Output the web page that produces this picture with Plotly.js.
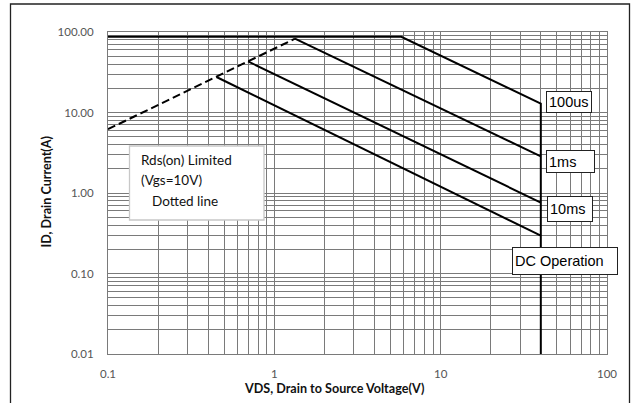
<!DOCTYPE html>
<html>
<head>
<meta charset="utf-8">
<script src="https://cdn.plot.ly/plotly-3.0.1.min.js"></script>
<style>
  html, body { margin: 0; padding: 0; background: #fff; }
  #chart { width: 637px; height: 403px; }
</style>
</head>
<body>
<div id="chart"></div>
<script>
// ---- data ----
const xTickVals = [0.1, 1, 10, 100];
const xTickText = ['0.1', '1', '10', '100'];
const yTickVals = [0.01, 0.1, 1, 10, 100];
const yTickText = ['0.01', '0.10', '1.00', '10.00', '100.00'];

// Rds(on) limited (dashed)
const rdsVds = [0.1, 1.33];
const rdsId  = [6.2, 82.6];
// 100us (with the DC vertical voltage limit at 40 V)
const us100Vds = [0.1, 5.8, 40, 40];
const us100Id  = [87, 87, 12.9, 0.01];
// 1ms
const ms1Vds = [1.33, 40];
const ms1Id  = [82.6, 2.85];
// 10ms
const ms10Vds = [0.695, 40];
const ms10Id  = [43.1, 0.76];
// DC operation
const dcVds = [0.449, 40];
const dcId  = [27.6, 0.295];

const seriesLabels = ['100us', '1ms', '10ms', 'DC Operation'];
const noteLines = ['Rds(on) Limited', '(Vgs=10V)', 'Dotted line'];

const gridCol = '#7a7a7a';
const lineStyle = {color: '#000', width: 2};

const traces = [
  {x: rdsVds, y: rdsId, mode: 'lines', line: {color: '#000', width: 2, dash: '8px,4px'}, name: 'Rds(on)'},
  {x: us100Vds, y: us100Id, mode: 'lines', line: lineStyle, name: seriesLabels[0]},
  {x: ms1Vds, y: ms1Id, mode: 'lines', line: lineStyle, name: seriesLabels[1]},
  {x: ms10Vds, y: ms10Id, mode: 'lines', line: lineStyle, name: seriesLabels[2]},
  {x: dcVds, y: dcId, mode: 'lines', line: lineStyle, name: seriesLabels[3]}
];

const L = 108, R = 30, T = 32, B = 49;
const W = 637 - L - R, H = 403 - T - B;
const px = v => (v - L) / W;          // pixel x -> paper
const py = v => (403 - B - v) / H;    // pixel y -> paper

const labelFont = {family: 'Liberation Sans, Arial, sans-serif', size: 14.5, color: '#000'};
function boxLabel(text, cx, cy, w, h) {
  return {xref: 'paper', yref: 'paper', x: px(cx), y: py(cy), xanchor: 'center', yanchor: 'middle',
    text: text, showarrow: false, font: labelFont, bgcolor: '#fff', bordercolor: '#222', borderwidth: 1,
    borderpad: 2, width: w - 4, height: h - 4, align: 'left'};
}

const noteFont = {family: 'Lato, sans-serif', size: 13.5, color: '#111'};
const titleFont = {family: 'Lato, sans-serif', size: 12.6, color: '#111'};

const layout = {
  width: 637, height: 403,
  margin: {l: L, r: R, t: T, b: B, pad: 0},
  paper_bgcolor: '#fff', plot_bgcolor: '#fff',
  showlegend: false,
  xaxis: {
    type: 'log', range: [-1, 2], tickmode: 'array', tickvals: xTickVals, ticktext: xTickText,
    showgrid: true, gridcolor: gridCol, gridwidth: 1,
    minor: {dtick: 'D1', showgrid: true, gridcolor: gridCol, gridwidth: 1, ticks: ''},
    showline: true, mirror: true, linecolor: gridCol, linewidth: 1,
    ticks: '', ticklabelstandoff: 9,
    tickfont: {family: 'Lato, sans-serif', size: 11.5, color: '#555'},
    zeroline: false, fixedrange: true
  },
  yaxis: {
    type: 'log', range: [-2, 2], tickmode: 'array', tickvals: yTickVals, ticktext: yTickText,
    showgrid: true, gridcolor: gridCol, gridwidth: 1,
    minor: {dtick: 'D1', showgrid: true, gridcolor: gridCol, gridwidth: 1, ticks: ''},
    showline: true, mirror: true, linecolor: gridCol, linewidth: 1,
    ticks: '', ticklabelstandoff: 11,
    tickfont: {family: 'Lato, sans-serif', size: 11.5, color: '#555'},
    zeroline: false, fixedrange: true
  },
  shapes: [
    // outer frame of the figure
    {type: 'rect', xref: 'paper', yref: 'paper', x0: px(10.5), x1: px(629.5), y0: py(410), y1: py(4),
      line: {color: '#222', width: 1.3}, fillcolor: 'rgba(0,0,0,0)', layer: 'above'},
    // note box
    {type: 'rect', xref: 'paper', yref: 'paper', x0: px(129.5), x1: px(264), y0: py(220), y1: py(146),
      line: {color: '#c8c8c8', width: 1.3}, fillcolor: '#fff', layer: 'above'}
  ],
  annotations: [
    boxLabel(seriesLabels[0], 568.7, 102.3, 44, 20),
    boxLabel(seriesLabels[1], 570.6, 161.6, 46.7, 21),
    boxLabel(seriesLabels[2], 569.5, 208.8, 43.6, 24),
    boxLabel(seriesLabels[3], 564.5, 261.2, 104.4, 26),
    {xref: 'paper', yref: 'paper', x: px(138.5), y: py(160), xanchor: 'left', yanchor: 'middle',
      text: noteLines[0], showarrow: false, font: noteFont},
    {xref: 'paper', yref: 'paper', x: px(138.5), y: py(179.5), xanchor: 'left', yanchor: 'middle',
      text: noteLines[1], showarrow: false, font: noteFont},
    {xref: 'paper', yref: 'paper', x: px(149.5), y: py(200.5), xanchor: 'left', yanchor: 'middle',
      text: noteLines[2], showarrow: false, font: noteFont},
    // axis titles
    {xref: 'paper', yref: 'paper', x: px(333.7), y: py(388.5), xanchor: 'center', yanchor: 'middle',
      text: '<b>VDS, Drain to Source Voltage(V)</b>', showarrow: false, font: titleFont},
    {xref: 'paper', yref: 'paper', x: px(46), y: py(191.5), xanchor: 'center', yanchor: 'middle',
      text: '<b>ID, Drain Current(A)</b>', showarrow: false, textangle: -90, font: titleFont}
  ]
};

Plotly.newPlot('chart', traces, layout, {staticPlot: true, displayModeBar: false});
</script>
</body>
</html>
